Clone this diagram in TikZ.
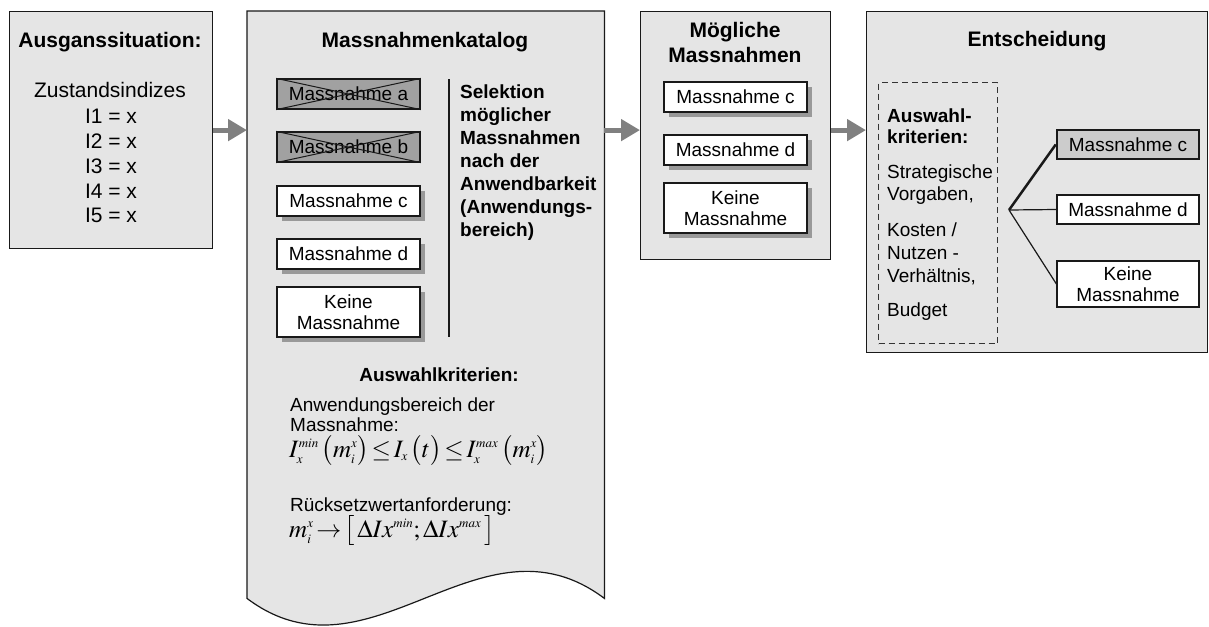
\documentclass[tikz,border=0pt]{standalone}
\usepackage{mathptmx}
\usepackage{fontspec}
\setmainfont{Liberation Sans}
\usetikzlibrary{arrows.meta,positioning,shadows}
\DeclareMathSizes{25}{25}{13}{10}

\newcommand{\headsize}{\fontsize{21}{25}\selectfont}
\newcommand{\txtsize}{\fontsize{19}{23}\selectfont}
\newcommand{\itemsize}{\fontsize{19}{20.5}\selectfont}
\newcommand{\bigtxt}{\fontsize{21}{25}\selectfont}
\newcommand{\mathsize}{\fontsize{25}{28}\selectfont\thickmuskip=2mu\medmuskip=1mu}

\begin{document}
\begin{tikzpicture}[x=1pt,y=-1pt]
  \tikzset{panel/.style = {draw=black!90, fill=black!10, line width=1.2pt}}
  \tikzset{box/.style = {anchor=north west, inner sep=0pt}}
  \tikzset{head/.style = {font=\headsize\bfseries, inner sep=0pt}}
  \tikzset{txt/.style = {font=\txtsize, inner sep=0pt}}
  \tikzset{item/.style = {draw=black!90, fill=white, line width=1.2pt, inner sep=0pt, align=center,
                          font=\itemsize, minimum width=143pt, minimum height=30pt}}
  \tikzset{shade/.style = {drop shadow={shadow xshift=5pt, shadow yshift=-5pt, fill=black!40, opacity=1}}}
  \tikzset{dropped/.style = {fill=black!37}}
  \tikzset{rule/.style = {draw=black!90, line width=1.2pt}}
  \tikzset{flow/.style = {draw=black!50, line width=5pt, -{Triangle[length=19pt,width=21pt]}}}

\useasboundingbox (0,0) rectangle (1209,626);

% panels
\node[panel, box, minimum width=203pt, minimum height=237pt] (start) at (9,11) {};
\node[box, minimum width=357pt, minimum height=587pt] (catalog) at (247,11) {};
\draw[panel] (catalog.south west) -- (catalog.north west) -- (catalog.north east) -- (catalog.south east)
   .. controls (480,505) and (370,691) .. (catalog.south west) -- cycle;
\node[panel, box, minimum width=190pt, minimum height=248pt] (possible) at (640,11) {};
\node[panel, box, minimum width=341pt, minimum height=341pt] (decision) at (866,11) {};

% Ausgangssituation
\node[head, anchor=base] (starttitle) at (110,48) {Ausganssituation:};
\node[txt, font=\bigtxt, anchor=base] (states) at (110,97) {Zustandsindizes};
\foreach \i/\y in {1/123,2/148,3/173,4/198,5/222}
  \node[txt, font=\bigtxt, anchor=base] (ind\i) at (111,\y) {I\i{} = x};

% Massnahmenkatalog
\node[head, anchor=base] (cattitle) at (425,48) {Massnahmenkatalog};
\node[item, dropped] (ma) at (348.5,94) {Massnahme a};
\node[item, dropped] (mb) at (348.5,147) {Massnahme b};
\draw[rule, line width=1pt] (ma.north west) -- (ma.south east) (ma.south west) -- (ma.north east);
\draw[rule, line width=1pt] (mb.north west) -- (mb.south east) (mb.south west) -- (mb.north east);
\node[item, shade] (mc) at (348.5,201) {Massnahme c};
\node[item, shade] (md) at (348.5,254) {Massnahme d};
\node[item, shade, minimum height=50pt] (mk) at (348.5,312) {Keine\\Massnahme};
\draw[rule] (449,79) -- (449,337);
% base anchor = last line
\node[txt, font=\txtsize\bfseries, anchor=base west, align=left] (select) at (460,236.5)
  {Selektion\\möglicher\\Massnahmen\\nach der\\Anwendbarkeit\\(Anwendungs-\\bereich)};

\node[txt, font=\txtsize\bfseries, anchor=base] (critcat) at (439,381) {Auswahlkriterien:};
\node[txt, font=\itemsize, anchor=base west, align=left] (scope) at (290,431.5) {Anwendungsbereich der\\Massnahme:};
\node[inner sep=0pt, font=\mathsize, anchor=base west] (scopef) at (289,457)
  {$I_x^{min}\,\bigl(m_i^x\bigr)\le I_x\,\bigl(t\bigr)\le I_x^{max}\,\bigl(m_i^x\bigr)$};
\node[txt, anchor=base west] (reset) at (290,511) {Rücksetzwertanforderung:};
\node[inner sep=0pt, font=\mathsize, anchor=base west] (resetf) at (289,537)
  {$m_i^x\rightarrow\bigl[\,\Delta Ix^{min};\Delta Ix^{max}\,\bigr]$};

% Moegliche Massnahmen
\node[head, anchor=base, align=center, font=\headsize\bfseries] (posstitle) at (735,63) {Mögliche\\Massnahmen};
\node[item, shade] (pc) at (735.5,97) {Massnahme c};
\node[item, shade] (pd) at (735.5,150) {Massnahme d};
\node[item, shade, minimum height=50pt] (pk) at (735.5,208) {Keine\\Massnahme};

% Entscheidung
\node[head, anchor=base] (dectitle) at (1037,47) {Entscheidung};
\node[box, draw=black!80, line width=1.2pt, dash pattern=on 6pt off 4pt,
      minimum width=119pt, minimum height=261pt] (critbox) at (878,82) {};
\node[txt, font=\fontsize{19}{21}\selectfont\bfseries, anchor=base west, align=left] (critdec) at (887,143) {Auswahl-\\kriterien:};
\node[txt, font=\fontsize{19}{22}\selectfont, anchor=base west, align=left] (strat) at (887,200) {Strategische\\Vorgaben,};
\node[txt, font=\fontsize{19}{23}\selectfont, anchor=base west, align=left] (cost) at (887,282) {Kosten /\\Nutzen -\\Verhältnis,};
\node[txt, anchor=base west] (budget) at (887,316) {Budget};

\node[item, fill=black!20, line width=2.5pt, minimum width=142pt, minimum height=29pt] (dc) at (1128,144.5) {Massnahme c};
\node[item, minimum width=142pt, minimum height=29pt] (dd) at (1128,209.5) {Massnahme d};
\node[item, minimum width=142pt, minimum height=46pt] (dk) at (1128,284) {Keine\\Massnahme};
\coordinate (fan) at (1009,210);
\draw[rule, line width=2.5pt] (fan) -- (dc.west);
\draw[rule] (fan) -- (dd.west);
\draw[rule] (fan) -- (dk.west);

% arrows
\draw[flow] (start.east) -- (start.east -| catalog.west);
\draw[flow] (catalog.east |- start.east) -- (start.east -| possible.west);
\draw[flow] (possible.east |- start.east) -- (start.east -| decision.west);

\end{tikzpicture}
\end{document}
